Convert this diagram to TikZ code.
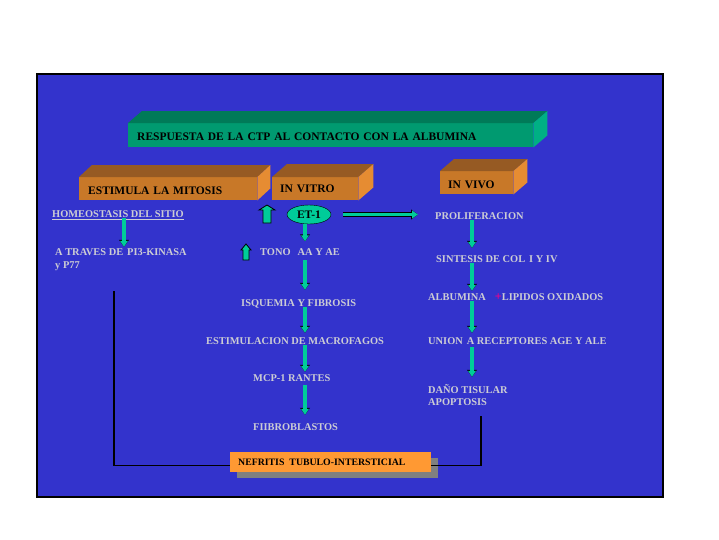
\documentclass[tikz,border=0pt]{standalone}
\usepackage{fontspec}
\setmainfont{Liberation Serif}
\usetikzlibrary{arrows.meta,shapes.geometric,calc}
\definecolor{bgblue}{HTML}{3333CC}
\definecolor{ggreen}{HTML}{00CC99}
\definecolor{txtgray}{HTML}{CCCCD4}
\definecolor{tfront}{HTML}{009A70}
\definecolor{ttop}{HTML}{007A58}
\definecolor{tside}{HTML}{00B084}
\definecolor{ofront}{HTML}{C87828}
\definecolor{otop}{HTML}{965A23}
\definecolor{oside}{HTML}{E68C32}
\definecolor{nefbox}{HTML}{FF9933}
\definecolor{shadowgray}{HTML}{808080}
\newcommand\boxfaces[5]{%
  \fill[#4] (#1.north west) -- ++(#2,-#3) -- ([shift={(#2,-#3)}]#1.north east) -- (#1.north east) -- cycle;
  \fill[#5] (#1.north east) -- ++(#2,-#3) -- ([shift={(#2,-#3)}]#1.south east) -- (#1.south east) -- cycle;}
\begin{document}
\begin{tikzpicture}[x=1pt,y=-1pt,
  lbl/.style={text=txtgray, font=\bfseries\fontsize{10.4}{12}\selectfont, inner sep=0pt, anchor=west, text height=7pt, text depth=0pt},
  boxtxt/.style={font=\bfseries\fontsize{11.5}{13}\selectfont, text=black, align=left, anchor=north west, inner ysep=0pt},
  garrow/.style={draw=ggreen, line width=3.4pt,
    -{Triangle[length=6pt,width=7.6pt]},
    preaction={draw=black, line width=4.8pt, -{Triangle[length=7pt,width=9.6pt]}}},
  blockarrow/.style={fill=ggreen, draw=black, line width=0.8pt},
  frameline/.style={draw=black, line width=1.2pt}]
\useasboundingbox (0,0) rectangle (719,539);
\fill[white] (0,0) rectangle (719,539);
\draw[fill=bgblue, line width=1.5pt] (37,74) rectangle (663,497);

% title box
\node[boxtxt, fill=tfront, text height=17pt, text depth=7pt, text width=387pt, inner xsep=9pt] (title) at (128,123) {RESPUESTA DE LA CTP AL CONTACTO CON LA ALBUMINA};
\boxfaces{title}{14}{12}{ttop}{tside}

% orange boxes
\node[boxtxt, fill=ofront, text height=17pt, text depth=6pt, text width=160pt, inner xsep=9pt] (mitosis) at (79,177) {ESTIMULA LA MITOSIS};
\boxfaces{mitosis}{13}{12}{otop}{oside}
\node[boxtxt, fill=ofront, text height=15pt, text depth=8pt, text width=70pt, inner xsep=8pt] (invitro) at (272,177) {IN VITRO};
\boxfaces{invitro}{15}{13}{otop}{oside}
\node[boxtxt, fill=ofront, text height=17pt, text depth=6pt, text width=57pt, inner xsep=8pt] (invivo) at (440,171) {IN VIVO};
\boxfaces{invivo}{14}{12}{otop}{oside}

% left column
\node[lbl] (homeo) at (52,214) {HOMEOSTASIS DEL SITIO};
\draw[txtgray, line width=0.9pt] ([yshift=-2pt]homeo.base west) -- ([yshift=-2pt]homeo.base east);
\node[lbl] (atraves) at (55,252) {A TRAVES DE\hspace{4pt}PI3-KINASA};
\node[lbl] (yp) at (55,265) {y P77};

% middle column
\node[draw=black, fill=ggreen, ellipse, minimum width=44pt, minimum height=19pt, inner sep=0pt, text=black, font=\bfseries\fontsize{11.5}{12}\selectfont] (et) at (309,214.5) {ET-1};
\node[lbl] (tono) at (260,252) {TONO\hspace{7pt}AA Y AE};
\node[lbl] (isq) at (241,303) {ISQUEMIA Y FIBROSIS};
\node[lbl] (estim) at (206,341) {ESTIMULACION DE MACROFAGOS};
\node[lbl] (mcp) at (253,378) {MCP-1 RANTES};
\node[lbl] (fibro) at (253,427) {FIIBROBLASTOS};

% right column
\node[lbl] (prolif) at (435,216) {PROLIFERACION};
\node[lbl] (sint) at (436,259) {SINTESIS DE COL\hspace{4pt}I Y IV};
\node[lbl] (alb) at (428,297) {ALBUMINA\hspace{9pt}{\color{magenta}\fontsize{12}{12}\selectfont +}LIPIDOS OXIDADOS};
\node[lbl] (union) at (428,341) {UNION\hspace{4pt}A RECEPTORES AGE Y ALE};
\node[lbl] (dano) at (428,390) {DAÑO TISULAR};
\node[lbl] (apop) at (428,402) {APOPTOSIS};

% x positions of arrow columns
\coordinate (xa) at (124,0);
\coordinate (xm) at (305,0);
\coordinate (xr) at (472,0);

% connector lines to bottom box
\coordinate (lt) at (114,291);
\coordinate (rt) at (481,416);

% bottom box
\fill[shadowgray] (237,458) rectangle (438,478);
\node[fill=nefbox, minimum height=20pt, inner ysep=0pt, anchor=north west, font=\bfseries\fontsize{9.8}{11}\selectfont, text width=185pt, inner xsep=8pt, align=left] (nef) at (230,452) {NEFRITIS\hspace{5pt}TUBULO-INTERSTICIAL};
\draw[frameline] (lt) |- ([yshift=-3pt]nef.west);
\draw[frameline] (rt) |- ([yshift=-3pt]nef.east);

% arrows
\draw[garrow, shorten >=1.5pt] (homeo.south -| xa) -- (atraves.north -| xa);
\draw[garrow, shorten >=7pt] (et.south -| xm) -- (tono.north -| xm);
\draw[garrow, shorten <=4pt, shorten >=9.5pt] (tono.south -| xm) -- (isq.north -| xm);
\draw[garrow, shorten >=4.5pt] (isq.south -| xm) -- (estim.north -| xm);
\draw[garrow, shorten >=2.5pt] (estim.south -| xm) -- (mcp.north -| xm);
\draw[garrow, shorten <=3.5pt, shorten >=8.5pt] (mcp.south -| xm) -- (fibro.north -| xm);
\draw[garrow, shorten >=7.5pt] (prolif.south -| xr) -- (sint.north -| xr);
\draw[garrow, shorten >=2.5pt] (sint.south -| xr) -- (alb.north -| xr);
\draw[garrow, shorten >=4.5pt] (alb.south -| xr) -- (union.north -| xr);
\draw[garrow, shorten <=2pt, shorten >=9.5pt] (union.south -| xr) -- (dano.north -| xr);
\draw[garrow, line width=3pt, shorten <=12pt, shorten >=17pt] (et.east) -- (prolif.west |- et.east);

% block up arrows
\coordinate (ua) at (267,205);
\coordinate (ub) at (246,244);
\draw[blockarrow] (ua) -- ++(8,5) -- ++(-4,0) -- ++(0,13) -- ++(-8,0) -- ++(0,-13) -- ++(-4,0) -- cycle;
\draw[blockarrow] (ub) -- ++(5,6) -- ++(-2,0) -- ++(0,10) -- ++(-6,0) -- ++(0,-10) -- ++(-2,0) -- cycle;
\end{tikzpicture}
\end{document}
